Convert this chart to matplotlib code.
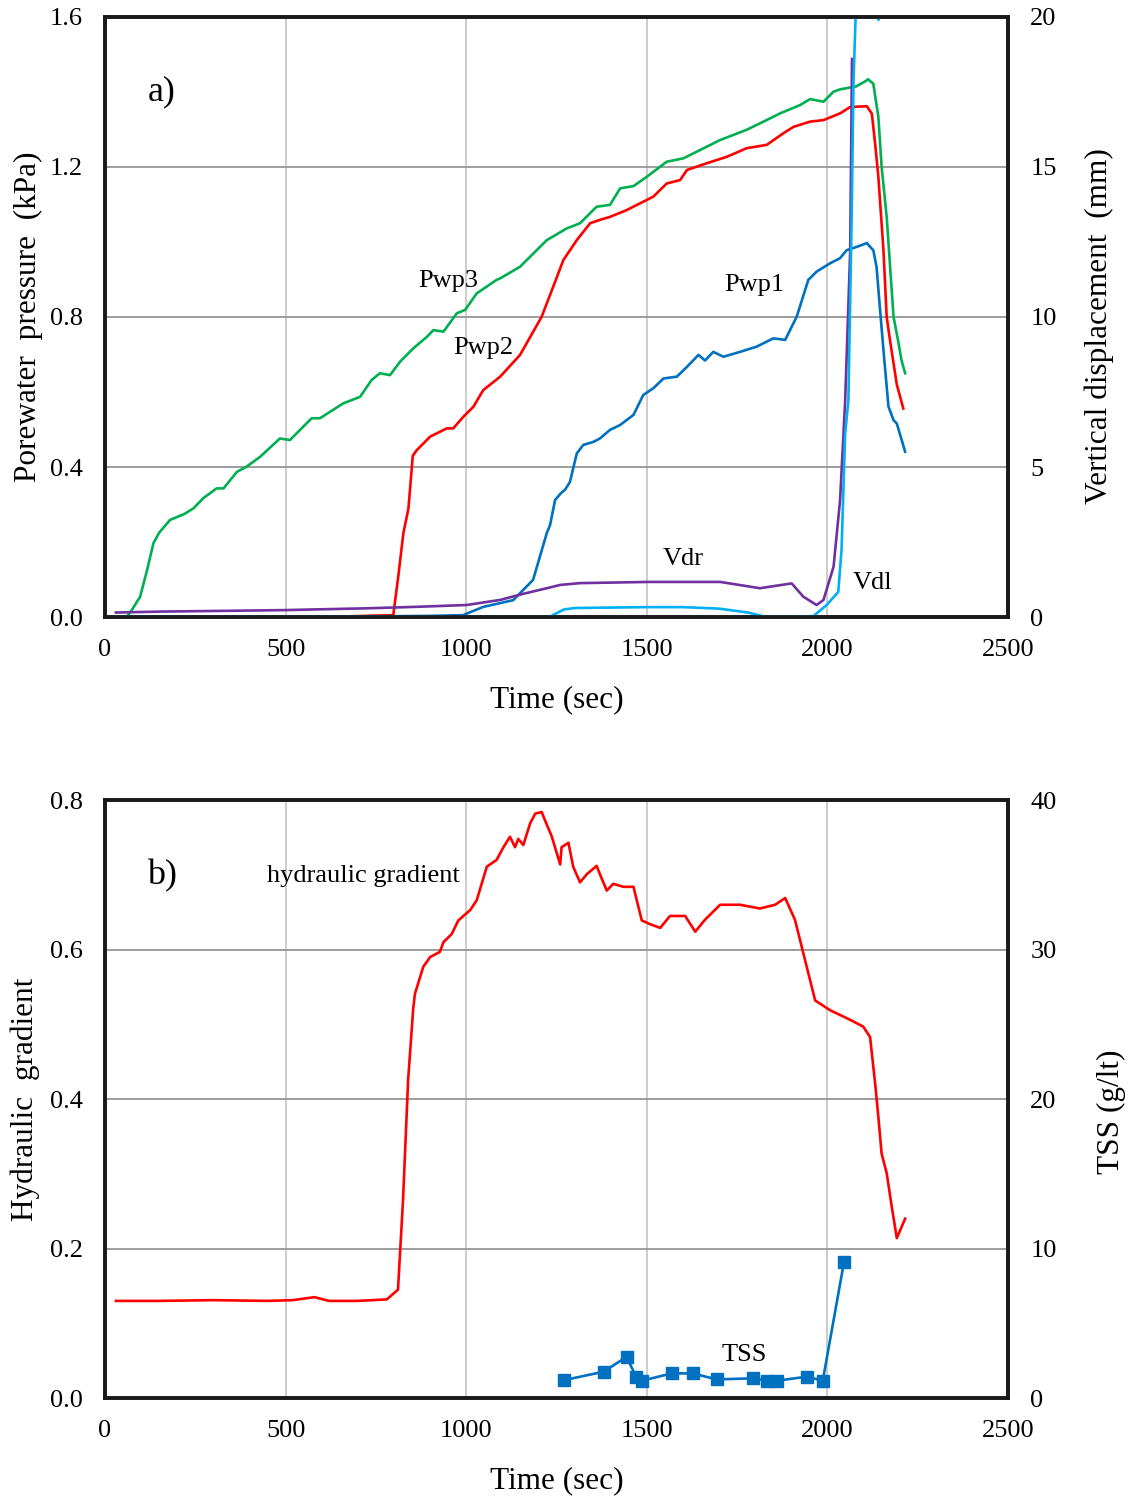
import matplotlib
matplotlib.use("Agg")
import matplotlib.pyplot as plt

plt.rcParams['font.family'] = ['Liberation Serif', 'DejaVu Serif']

# a) porewater pressure (kPa) and vertical displacement (mm) vs time (sec)
pwp3_t = [30, 60, 75, 97, 115, 134, 150, 180, 220, 245, 272, 309, 328, 365, 392, 429,
          484, 512, 572, 595, 660, 706, 738, 761, 789, 817, 854, 891, 909, 937, 974,
          997, 1029, 1084, 1094, 1149, 1223, 1278, 1315, 1343, 1361, 1398, 1426, 1463,
          1500, 1555, 1601, 1647, 1703, 1776, 1823, 1869, 1924, 1952, 1989, 2017, 2035,
          2080, 2109, 2112, 2127, 2141, 2150, 2164, 2183, 2195, 2205, 2215]
pwp3_v = [0.0, 0.0, 0.02, 0.054, 0.12, 0.197, 0.225, 0.259, 0.275, 0.29, 0.317, 0.343,
          0.343, 0.387, 0.401, 0.427, 0.476, 0.472, 0.53, 0.53, 0.57, 0.587, 0.632,
          0.65, 0.645, 0.681, 0.717, 0.747, 0.765, 0.761, 0.81, 0.819, 0.863, 0.899,
          0.903, 0.934, 1.005, 1.036, 1.05, 1.077, 1.094, 1.099, 1.143, 1.149, 1.174,
          1.214, 1.223, 1.245, 1.272, 1.299, 1.321, 1.343, 1.365, 1.381, 1.374, 1.401,
          1.407, 1.415, 1.431, 1.434, 1.422, 1.333, 1.2, 1.067, 0.8, 0.74, 0.685, 0.65]

pwp2_t = [30, 300, 600, 798, 812, 826, 840, 852, 863, 900, 946, 964, 992, 1020, 1047,
          1094, 1149, 1209, 1269, 1306, 1343, 1370, 1398, 1444, 1481, 1518, 1555, 1592,
          1611, 1666, 1721, 1776, 1832, 1878, 1906, 1952, 1989, 2035, 2063, 2109, 2123,
          2132, 2141, 2155, 2164, 2173, 2192, 2210]
pwp2_v = [0.0, 0.0, 0.0, 0.005, 0.11, 0.224, 0.29, 0.43, 0.445, 0.481, 0.503, 0.503,
          0.534, 0.561, 0.605, 0.641, 0.699, 0.801, 0.952, 1.005, 1.05, 1.059, 1.067,
          1.085, 1.103, 1.121, 1.156, 1.165, 1.192, 1.21, 1.227, 1.25, 1.259, 1.29,
          1.307, 1.321, 1.325, 1.343, 1.36, 1.362, 1.342, 1.262, 1.173, 0.979, 0.8,
          0.739, 0.62, 0.556]

pwp1_t = [30, 500, 900, 991, 1047, 1130, 1185, 1223, 1232, 1246, 1262, 1274, 1287, 1306,
          1324, 1352, 1370, 1398, 1426, 1463, 1490, 1518, 1546, 1583, 1611, 1643, 1661,
          1684, 1712, 1758, 1804, 1850, 1883, 1915, 1947, 1970, 2007, 2035, 2053, 2081,
          2109, 2127, 2136, 2145, 2157, 2169, 2183, 2192, 2215]
pwp1_v = [0.0, 0.0, 0.003, 0.005, 0.027, 0.045, 0.099, 0.224, 0.245, 0.312, 0.33, 0.34,
          0.36, 0.436, 0.459, 0.467, 0.476, 0.499, 0.512, 0.539, 0.592, 0.61, 0.636,
          0.641, 0.667, 0.699, 0.684, 0.707, 0.694, 0.707, 0.721, 0.743, 0.739, 0.801,
          0.899, 0.921, 0.943, 0.957, 0.978, 0.987, 0.997, 0.978, 0.933, 0.827, 0.69,
          0.561, 0.525, 0.516, 0.441]

vdr_t = [30, 150, 494, 724, 863, 1001, 1094, 1160, 1223, 1260, 1315, 1509, 1703, 1813,
         1901, 1933, 1970, 1989, 2017, 2035, 2049, 2063, 2068]
vdr_v = [0.15, 0.18, 0.23, 0.29, 0.34, 0.4, 0.57, 0.78, 0.96, 1.07, 1.13, 1.17, 1.17,
         0.96, 1.12, 0.68, 0.4, 0.57, 1.68, 3.9, 7.2, 12.2, 18.6]

vdl_t = [30, 1230, 1270, 1300, 1500, 1600, 1700, 1780, 1830, 1961, 1998, 2030, 2039,
         2049, 2058, 2067, 2072, 2078, 2100, 2139, 2141, 2143, 2160]
vdl_v = [0.0, 0.0, 0.25, 0.3, 0.33, 0.33, 0.28, 0.15, 0.0, 0.03, 0.4, 0.84, 2.23, 6.1,
         7.23, 13.3, 17.8, 20.0, 25.0, 20.2, 19.9, 20.2, 25.0]

# b) hydraulic gradient and TSS (g/lt) vs time (sec)
grad_t = [30, 150, 300, 450, 520, 580, 620, 700, 780, 811, 825, 839, 853, 858, 881, 900,
          927, 937, 960, 978, 1011, 1029, 1057, 1084, 1103, 1121, 1135, 1144, 1158, 1177,
          1191, 1209, 1218, 1237, 1260, 1264, 1283, 1287, 1296, 1315, 1334, 1361, 1370,
          1389, 1407, 1435, 1463, 1472, 1486, 1509, 1537, 1564, 1606, 1634, 1661, 1703,
          1758, 1813, 1855, 1883, 1910, 1938, 1966, 2007, 2063, 2099, 2118, 2132, 2141,
          2150, 2164, 2178, 2192, 2215]
grad_v = [0.13, 0.13, 0.131, 0.13, 0.131, 0.135, 0.13, 0.13, 0.132, 0.145, 0.265, 0.425,
          0.52, 0.541, 0.577, 0.59, 0.597, 0.61, 0.621, 0.639, 0.653, 0.666, 0.711, 0.72,
          0.737, 0.751, 0.737, 0.748, 0.74, 0.769, 0.782, 0.784, 0.773, 0.751, 0.714,
          0.737, 0.743, 0.733, 0.711, 0.69, 0.701, 0.712, 0.701, 0.679, 0.688, 0.684,
          0.684, 0.666, 0.639, 0.634, 0.629, 0.645, 0.645, 0.624, 0.64, 0.66, 0.66, 0.655,
          0.66, 0.669, 0.64, 0.586, 0.532, 0.519, 0.506, 0.497, 0.483, 0.421, 0.376,
          0.327, 0.301, 0.256, 0.214, 0.24]

tss_t = [1271, 1380, 1444, 1470, 1486, 1569, 1627, 1693, 1795, 1832, 1860, 1943, 1987, 2046]
tss_v = [1.2, 1.76, 2.76, 1.43, 1.16, 1.65, 1.65, 1.25, 1.32, 1.16, 1.16, 1.43, 1.16, 9.12]

c_green = '#00b050'
c_red = '#ff0000'
c_blue = '#0070c0'
c_purple = '#7030a0'
c_cyan = '#00b0f0'
fs_tick = 19
fs_lab = 22.5


def style(ax, ax2, ylim, yticks, ylim2, yticks2, yfmt):
    ax.set_xlim(0, 2500)
    ax.set_xticks(range(0, 2501, 500))
    ax.set_ylim(*ylim)
    ax.set_yticks(yticks)
    ax.set_yticklabels([yfmt.format(v) for v in yticks])
    ax2.set_ylim(*ylim2)
    ax2.set_yticks(yticks2)
    ax.grid(True, axis='x', color='#c8c8c8', lw=1.3)
    ax.grid(True, axis='y', color='#959595', lw=1.3)
    ax.set_axisbelow(True)
    ax.tick_params(axis='both', length=0, labelsize=fs_tick, pad=16)
    ax.tick_params(axis='x', pad=16)
    ax2.tick_params(axis='y', length=0, labelsize=fs_tick, pad=16)
    for a in (ax, ax2):
        for s in a.spines.values():
            s.set_linewidth(2.6)
            s.set_color('#1a1a1a')


fig = plt.figure(figsize=(11.32, 15.02), dpi=100)
ax1 = fig.add_axes([0.0928, 0.5892, 0.7977, 0.3995])
ax1r = ax1.twinx()
ax3 = fig.add_axes([0.0928, 0.0692, 0.7977, 0.3981])
ax3r = ax3.twinx()

# top panel
ax1.plot(pwp3_t, pwp3_v, color=c_green, lw=1.9, zorder=3)
ax1.plot(pwp2_t, pwp2_v, color=c_red, lw=1.9, zorder=3)
ax1.plot(pwp1_t, pwp1_v, color=c_blue, lw=1.9, zorder=3)
ax1r.plot(vdr_t, vdr_v, color=c_purple, lw=1.9)
ax1r.plot(vdl_t, vdl_v, color=c_cyan, lw=1.9)
style(ax1, ax1r, (0, 1.6), [0, 0.4, 0.8, 1.2, 1.6], (0, 20), [0, 5, 10, 15, 20], '{:.1f}')
ax1.set_xlabel('Time (sec)', fontsize=fs_lab, labelpad=17)
ax1.set_ylabel('Porewater  pressure  (kPa)', fontsize=fs_lab, labelpad=5)
ax1r.set_ylabel('Vertical displacement  (mm)', fontsize=fs_lab, labelpad=20)
ax1r.yaxis.label.set_y(0.485)
ax1.text(0.047, 0.875, 'a)', transform=ax1.transAxes, fontsize=26, va='center')
ax1.text(950, 0.896, 'Pwp3', fontsize=fs_tick, ha='center', va='center')
ax1.text(1047, 0.717, 'Pwp2', fontsize=fs_tick, ha='center', va='center')
ax1.text(1797, 0.886, 'Pwp1', fontsize=fs_tick, ha='center', va='center')
ax1.text(1600, 0.155, 'Vdr', fontsize=fs_tick, ha='center', va='center')
ax1.text(2125, 0.091, 'Vdl', fontsize=fs_tick, ha='center', va='center')

# bottom panel
ax3.plot(grad_t, grad_v, color=c_red, lw=1.9, zorder=3)
ax3r.plot(tss_t, tss_v, color=c_blue, lw=1.9, marker='s', markersize=9)
style(ax3, ax3r, (0, 0.8), [0, 0.2, 0.4, 0.6, 0.8], (0, 40), [0, 10, 20, 30, 40], '{:.1f}')
ax3.set_xlabel('Time (sec)', fontsize=fs_lab, labelpad=17)
ax3.set_ylabel('Hydraulic  gradient', fontsize=fs_lab, labelpad=7)
ax3r.set_ylabel('TSS (g/lt)', fontsize=fs_lab, labelpad=29)
ax3r.yaxis.label.set_y(0.478)
ax3.text(0.047, 0.873, 'b)', transform=ax3.transAxes, fontsize=26, va='center')
ax3.text(715, 0.698, 'hydraulic gradient', fontsize=fs_tick, ha='center', va='center')
ax3.text(1770, 0.058, 'TSS', fontsize=fs_tick, ha='center', va='center')

fig.savefig('out.png', dpi=100)
